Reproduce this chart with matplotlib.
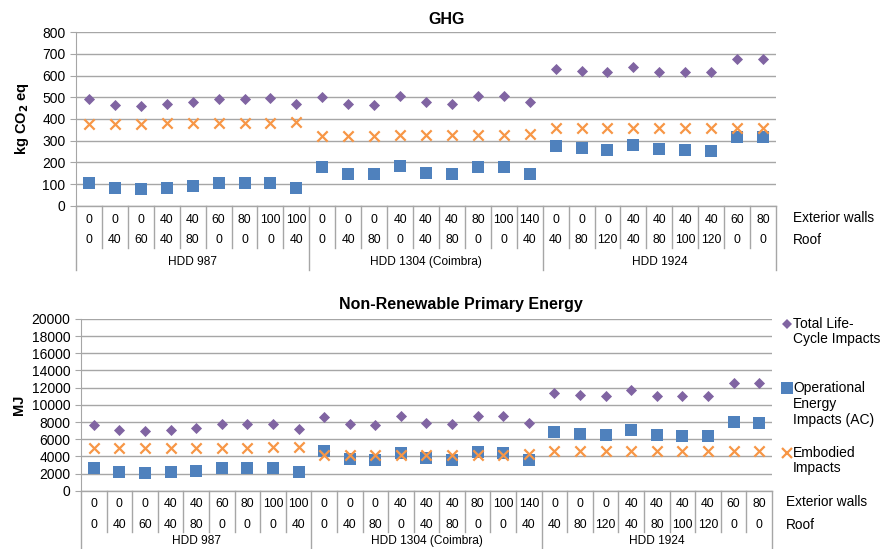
import matplotlib.pyplot as plt
import matplotlib.transforms as mtransforms
from matplotlib.lines import Line2D

plt.rcParams['font.family'] = ['Liberation Sans', 'DejaVu Sans']

# category table
ext_walls = [0, 0, 0, 40, 40, 60, 80, 100, 100,
             0, 0, 0, 40, 40, 40, 80, 100, 140,
             0, 0, 0, 40, 40, 40, 40, 60, 80]
roof = [0, 40, 60, 40, 80, 0, 0, 0, 40,
        0, 40, 80, 0, 40, 80, 0, 0, 40,
        40, 80, 120, 40, 80, 100, 120, 0, 0]
groups = ["HDD 987", "HDD 1304 (Coimbra)", "HDD 1924"]
group_size = 9

# GHG (kg CO2 eq)
ghg_total = [491, 464, 461, 467, 476, 492, 493, 495, 469,
             502, 467, 464, 504, 477, 469, 507, 507, 478,
             630, 621, 616, 641, 618, 616, 615, 677, 677]
ghg_oper = [107, 84, 80, 84, 90, 107, 107, 107, 84,
            181, 149, 146, 182, 150, 146, 181, 181, 146,
            274, 265, 256, 282, 261, 256, 251, 317, 317]
ghg_emb = [378, 378, 378, 382, 382, 382, 382, 383, 384,
           322, 322, 322, 325, 325, 325, 325, 325, 331,
           359, 359, 359, 359, 359, 359, 359, 359, 359]

# Non-renewable primary energy (MJ)
nrpe_total = [7620, 7035, 6954, 7070, 7340, 7770, 7770, 7770, 7150,
              8620, 7770, 7650, 8665, 7920, 7770, 8700, 8700, 7920,
              11400, 11150, 11070, 11730, 11030, 10990, 11030, 12540, 12540]
nrpe_oper = [2680, 2140, 2025, 2140, 2260, 2680, 2680, 2680, 2140,
             4590, 3660, 3540, 4430, 3770, 3540, 4470, 4430, 3610,
             6780, 6570, 6450, 7030, 6450, 6340, 6340, 7970, 7850]
nrpe_emb = [4950, 4950, 4950, 5000, 5000, 5000, 5000, 5050, 5050,
            4100, 4100, 4100, 4150, 4150, 4150, 4150, 4200, 4250,
            4600, 4600, 4600, 4600, 4600, 4600, 4650, 4600, 4600]

purple = '#8064A2'
blue = '#4F81BD'
orange = '#F79646'
grey = '#A6A6A6'

fig = plt.figure(figsize=(8.82, 5.49), dpi=100)
ax1 = fig.add_axes([0.0862, 0.6248, 0.7936, 0.3169])
ax2 = fig.add_axes([0.0918, 0.1062, 0.7835, 0.3128])

n = len(ext_walls)
xs = list(range(n))


def draw(ax, total, oper, emb, ymax, step, rows_y, grp_y, line_y, grp_line_y):
    ax.scatter(xs, total, marker='D', s=32, color=purple, zorder=3, linewidths=0)
    ax.scatter(xs, oper, marker='s', s=72, color=blue, zorder=3, linewidths=0)
    ax.scatter(xs, emb, marker='x', s=55, color=orange, zorder=3, linewidths=1.6)
    ax.set_xlim(-0.5, n - 0.5)
    ax.set_ylim(0, ymax)
    ax.set_yticks(range(0, ymax + 1, step))
    ax.yaxis.grid(True, color=grey, lw=1)
    ax.set_axisbelow(True)
    ax.set_xticks([])
    for s in ['top', 'right', 'bottom']:
        ax.spines[s].set_visible(False)
    ax.spines['left'].set_color(grey)
    ax.tick_params(axis='y', colors=grey, labelcolor='black', labelsize=10, length=4)
    trans = mtransforms.blended_transform_factory(ax.transData, ax.transAxes)
    ax.plot([-0.5, n - 0.5], [0, 0], color=grey, lw=1, transform=trans, clip_on=False)
    for i in range(n):
        ax.text(i, rows_y[0], str(ext_walls[i]), ha='center', va='center',
                fontsize=8.8, transform=trans)
        ax.text(i, rows_y[1], str(roof[i]), ha='center', va='center',
                fontsize=8.8, transform=trans)
    for b in range(n + 1):
        x = b - 0.5
        if b % group_size == 0:
            ax.plot([x, x], [0, grp_line_y], color=grey, lw=1, transform=trans, clip_on=False)
        else:
            ax.plot([x, x], [0, line_y], color=grey, lw=1, transform=trans, clip_on=False)
    for g, name in enumerate(groups):
        ax.text(g * group_size + (group_size - 1) / 2, grp_y, name, ha='center',
                va='center', fontsize=8.6, transform=trans)


draw(ax1, ghg_total, ghg_oper, ghg_emb, 800, 100,
     (-0.080, -0.195), -0.322, -0.241, -0.368)
draw(ax2, nrpe_total, nrpe_oper, nrpe_emb, 20000, 2000,
     (-0.077, -0.200), -0.295, -0.239, -0.40)

ax1.set_ylabel(r'kg CO$_\mathbf{2}$ eq', fontsize=10.5, fontweight='bold', labelpad=8)
ax2.set_ylabel('MJ', fontsize=10.5, fontweight='bold', labelpad=4)

fig.text(0.506, 0.9636, 'GHG', ha='center', va='center', fontsize=11.5, fontweight='bold')
fig.text(0.522, 0.4445, 'Non-Renewable Primary Energy', ha='center', va='center',
         fontsize=11.5, fontweight='bold')

fig.text(793 / 882, 1 - 218 / 549, 'Exterior walls', ha='left', va='center', fontsize=9.8)
fig.text(793 / 882, 1 - 240 / 549, 'Roof', ha='left', va='center', fontsize=9.8)
fig.text(786 / 882, 1 - 502 / 549, 'Exterior walls', ha='left', va='center', fontsize=9.8)
fig.text(786 / 882, 1 - 525 / 549, 'Roof', ha='left', va='center', fontsize=9.8)

# legend, drawn by hand so markers sit on the first label line
legend_items = [
    ('D', purple, 5, 'Total Life-\nCycle Impacts', 323.7),
    ('s', blue, 8, 'Operational\nEnergy\nImpacts (AC)', 388.3),
    ('x', orange, 7, 'Embodied\nImpacts', 452.7),
]
for mk, col, ms, label, ypx in legend_items:
    yf = 1 - ypx / 549
    fig.add_artist(Line2D([787 / 882], [yf], marker=mk, color=col, markersize=ms,
                          markeredgewidth=1.6 if mk == 'x' else 0, linestyle='none'))
    fig.text(793 / 882, yf + 7 / 549, label, ha='left', va='top', fontsize=10,
             linespacing=1.15)

fig.savefig('out.png', dpi=100)
